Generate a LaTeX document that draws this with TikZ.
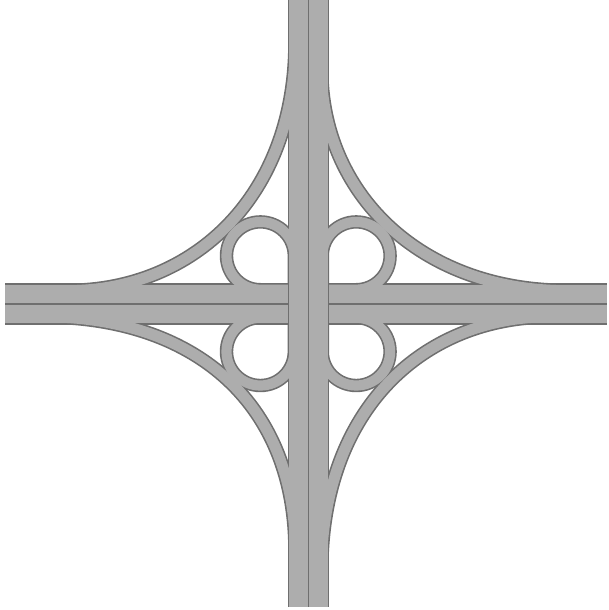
\documentclass[tikz,border=0pt]{standalone}
\definecolor{roadgrey}{HTML}{ADADAD}
\definecolor{edgegrey}{HTML}{6F6F6F}
\tikzset{
  x=1pt,y=1pt,
  roadcasing/.style={draw=edgegrey,line width=41.6pt},
  roadsurface/.style={draw=roadgrey,line width=38.4pt},
  rampcasing/.style={draw=edgegrey,line width=14.2pt},
  rampsurface/.style={draw=roadgrey,line width=11pt},
  loopcasing/.style={draw=edgegrey,line width=13.4pt},
  loopsurface/.style={draw=roadgrey,line width=10.2pt},
  roadline/.style={draw=edgegrey,line width=1.6pt}
}
\newcommand\network[3]{%
  \draw[#1] (5,-303.7) -- (607,-303.7);
  \draw[#1] (308.3,0) -- (308.3,-606.5);
  \foreach \sx/\sy/\V/\H/\Av/\Ah in {-1/1/262/241/154/127, -1/-1/247/266/142/159, 1/-1/269/242/166/125, 1/1/236/259/125/148}{
    \begin{scope}[shift={(308.3,-303.7)},xscale=\sx,yscale=\sy]
      \draw[#2] (13,\V+10) -- (13,\V) .. controls (13,\V-\Av) and (\H-\Ah,13) .. (\H,13) -- (\H+10,13);
      \draw[#3] (14,14) -- (14,47.9) arc[start angle=180,end angle=-90,radius=33.9] -- (14,14);
    \end{scope}
  }
}
\begin{document}
\begin{tikzpicture}
  \useasboundingbox (0,0) rectangle (608,-610);
  \network{roadcasing}{rampcasing}{loopcasing}
  \network{roadsurface}{rampsurface}{loopsurface}
  \draw[roadline] (5,-303.7) -- (288.3,-303.7);
  \draw[roadline] (328.3,-303.7) -- (607,-303.7);
  \draw[roadline] (308.3,0) -- (308.3,-606.5);
  \draw[roadline] (288.3,-283.7) -- (288.3,-323.7);
  \draw[roadline] (328.3,-283.7) -- (328.3,-323.7);
\end{tikzpicture}
\end{document}
